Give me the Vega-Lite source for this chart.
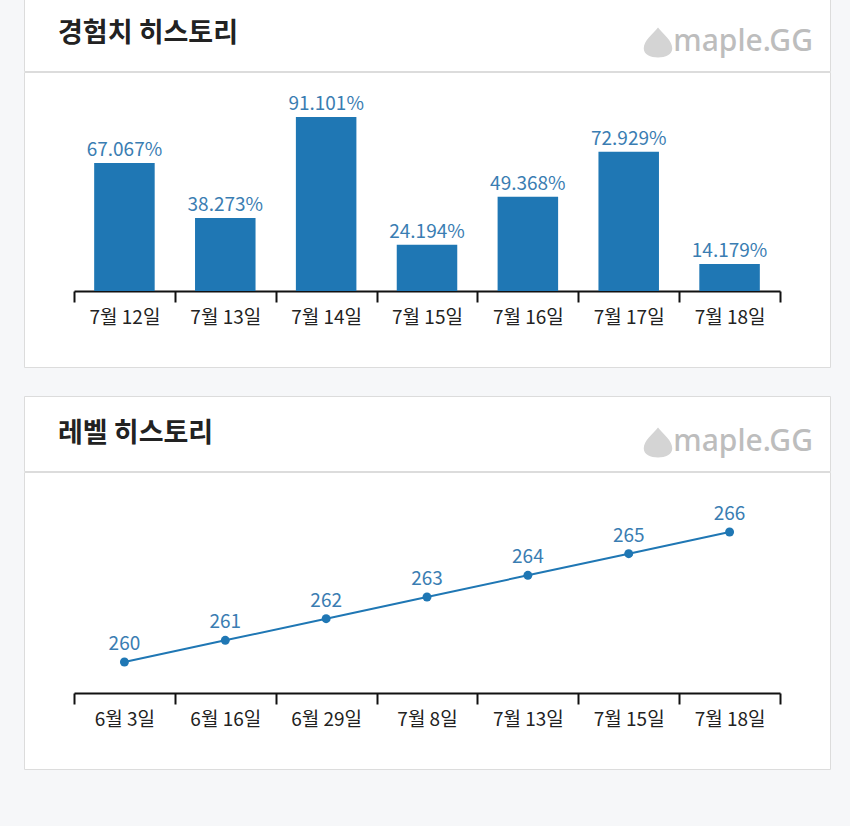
{
  "$schema": "https://vega.github.io/schema/vega-lite/v6.json",
  "background": "#f6f7f9",
  "padding": {"left": 23, "right": 21, "top": -5, "bottom": 56},
  "spacing": 27,
  "config": {
    "font": "Noto Sans CJK KR",
    "view": {"stroke": "#dcdcdc", "fill": "#ffffff", "strokeWidth": 1},
    "title": {"anchor": "start", "frame": "group", "fontSize": 27, "fontWeight": "bold", "color": "#222222", "offset": -52, "dx": 34, "baseline": "alphabetic"},
    "axisX": {"title": null, "offset": -76, "tickBand": "extent", "domainColor": "#111111", "domainWidth": 2, "tickColor": "#111111", "tickWidth": 2, "tickSize": 11, "labelAngle": 0, "labelFontSize": 19, "labelColor": "#222222", "labelPadding": 6, "grid": false}
  },
  "vconcat": [
    {
      "spacing": -3,
      "vconcat": [
        {
          "width": 806,
          "height": 75,
          "title": "경험치 히스토리",
          "data": {"values": [{"logo": "maple.GG"}]},
          "layer": [
            {"mark": {"type": "point", "shape": "M0,-1C0.35,-0.55 0.95,-0.15 0.95,0.4C0.95,0.8 0.5,1 0,1C-0.5,1 -0.95,0.8 -0.95,0.4C-0.95,-0.15 -0.35,-0.55 0,-1Z", "filled": true, "color": "#d4d4d4", "opacity": 1, "size": 900, "xOffset": -172, "yOffset": 9}, "encoding": {"x": {"value": "width"}}},
            {"mark": {"type": "text", "align": "right", "baseline": "alphabetic", "dx": -17, "dy": 17, "fontSize": 30, "font": "Noto Sans", "fontWeight": 500, "color": "#bdbdbd"}, "encoding": {"x": {"value": "width"}, "text": {"field": "logo"}}}
          ]
        },
        {
          "width": 806,
          "height": 295,
          "data": {"values": [
            {"date": "7월 12일", "exp": 0.67067},
            {"date": "7월 13일", "exp": 0.38273},
            {"date": "7월 14일", "exp": 0.91101},
            {"date": "7월 15일", "exp": 0.24194},
            {"date": "7월 16일", "exp": 0.49368},
            {"date": "7월 17일", "exp": 0.72929},
            {"date": "7월 18일", "exp": 0.14179}
          ]},
          "encoding": {
            "x": {"field": "date", "type": "nominal", "sort": null, "scale": {"range": [50, 756], "paddingInner": 0, "paddingOuter": 0}, "axis": {"tickBand": "extent"}},
            "y": {"field": "exp", "type": "quantitative", "scale": {"domain": [0, 1], "range": [219, 28]}, "axis": null}
          },
          "layer": [
            {"mark": {"type": "bar", "color": "#1f77b4", "width": {"band": 0.6}}},
            {"mark": {"type": "text", "baseline": "alphabetic", "dy": -7, "fontSize": 19, "color": "#3a7db2"}, "encoding": {"text": {"field": "exp", "format": ".3%"}}}
          ]
        }
      ]
    },
    {
      "spacing": -3,
      "vconcat": [
        {
          "width": 806,
          "height": 75,
          "title": "레벨 히스토리",
          "data": {"values": [{"logo": "maple.GG"}]},
          "layer": [
            {"mark": {"type": "point", "shape": "M0,-1C0.35,-0.55 0.95,-0.15 0.95,0.4C0.95,0.8 0.5,1 0,1C-0.5,1 -0.95,0.8 -0.95,0.4C-0.95,-0.15 -0.35,-0.55 0,-1Z", "filled": true, "color": "#d4d4d4", "opacity": 1, "size": 900, "xOffset": -172, "yOffset": 9}, "encoding": {"x": {"value": "width"}}},
            {"mark": {"type": "text", "align": "right", "baseline": "alphabetic", "dx": -17, "dy": 17, "fontSize": 30, "font": "Noto Sans", "fontWeight": 500, "color": "#bdbdbd"}, "encoding": {"x": {"value": "width"}, "text": {"field": "logo"}}}
          ]
        },
        {
          "width": 806,
          "height": 297,
          "data": {"values": [
            {"date": "6월 3일", "level": 260},
            {"date": "6월 16일", "level": 261},
            {"date": "6월 29일", "level": 262},
            {"date": "7월 8일", "level": 263},
            {"date": "7월 13일", "level": 264},
            {"date": "7월 15일", "level": 265},
            {"date": "7월 18일", "level": 266}
          ]},
          "encoding": {
            "x": {"field": "date", "type": "nominal", "sort": null, "scale": {"range": [50, 756], "paddingInner": 0, "paddingOuter": 0}, "axis": {"tickBand": "extent"}},
            "y": {"field": "level", "type": "quantitative", "scale": {"domain": [260, 266], "range": [190, 60], "zero": false}, "axis": null}
          },
          "layer": [
            {"mark": {"type": "line", "color": "#1f77b4", "strokeWidth": 2}},
            {"mark": {"type": "point", "filled": true, "size": 80, "color": "#1f77b4", "opacity": 1}},
            {"mark": {"type": "text", "baseline": "alphabetic", "dy": -12, "fontSize": 19, "color": "#3a7db2"}, "encoding": {"text": {"field": "level"}}}
          ]
        }
      ]
    }
  ]
}
